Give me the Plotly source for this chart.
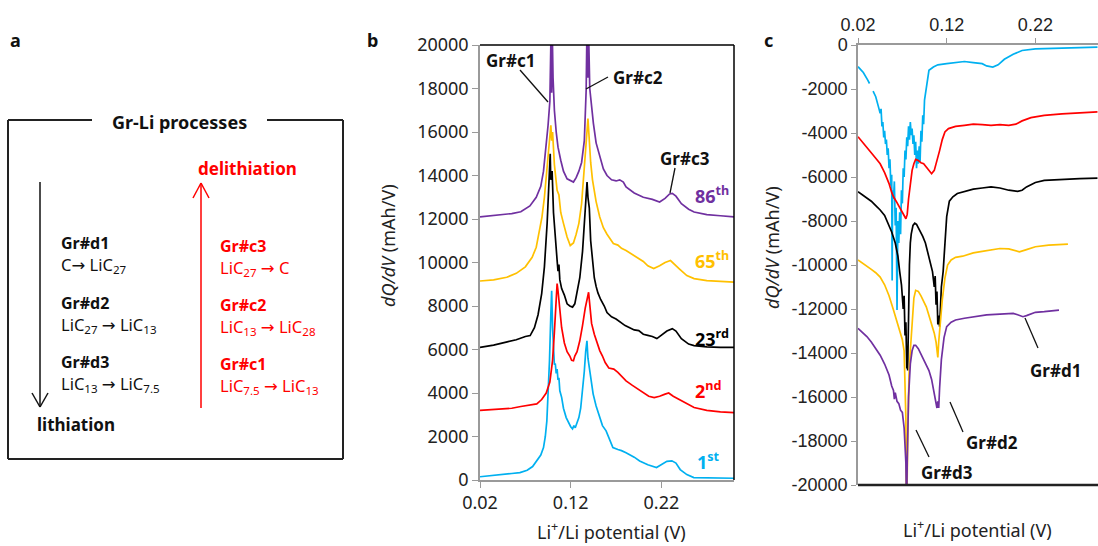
import plotly.graph_objects as go

W, H = 1098, 546

# ---------------- Panel b data (delithiation dQ/dV, offset curves) ----------------
b1_x = [0.02, 0.04, 0.055, 0.064, 0.072, 0.078, 0.0826, 0.087, 0.09, 0.092, 0.0937, 0.095, 0.0966, 0.098, 0.099,
        0.1, 0.101, 0.102, 0.103, 0.104, 0.105, 0.106, 0.107, 0.108, 0.11, 0.112, 0.115, 0.118, 0.12, 0.122, 0.1235,
        0.125, 0.127, 0.129, 0.131, 0.133, 0.135, 0.1365, 0.1379, 0.139, 0.141, 0.143, 0.1447, 0.148, 0.152, 0.155,
        0.159, 0.163, 0.1665, 0.172, 0.176, 0.181, 0.19, 0.196, 0.205, 0.2146, 0.22, 0.226, 0.2315, 0.236, 0.2407,
        0.248, 0.2557, 0.27, 0.285, 0.3]
b1_y = [150, 220, 300, 340, 450, 620, 875, 1150, 1490, 2000, 2720, 3800, 5480, 7500, 8700,
        7000, 5800, 5300, 5350, 4900, 5100, 4600, 4700, 4100, 3800, 3300, 2870, 2600, 2450, 2350, 2500,
        2400, 2600, 2870, 3300, 4010, 5000, 5900, 6400, 5600, 5020, 4500, 3960, 3400, 2870, 2500,
        2260, 1800, 1490, 1400, 1350, 1250, 1050, 875, 700, 570, 700, 860, 880, 780, 480,
        250, 110, 90, 85, 80]

b2_x = [0.02, 0.04, 0.055, 0.065, 0.075, 0.0826, 0.088, 0.093, 0.097, 0.1, 0.102, 0.104, 0.105, 0.106, 0.108,
        0.11, 0.113, 0.116, 0.119, 0.121, 0.123, 0.1245, 0.127, 0.13, 0.133, 0.136, 0.1397, 0.141, 0.143, 0.146,
        0.149, 0.152, 0.155, 0.158, 0.162, 0.1675, 0.172, 0.177, 0.181, 0.188, 0.195, 0.2, 0.206, 0.212, 0.218,
        0.224, 0.228, 0.233, 0.24, 0.248, 0.256, 0.27, 0.285, 0.3]
b2_y = [3200, 3250, 3300, 3380, 3450, 3500, 3700, 4000, 4500, 5500, 6800, 8300, 9030, 8700, 7800,
        7000, 6300, 5900, 5700, 5500, 5480, 5700, 5900, 6400, 7100, 7900, 8630, 8000, 7200, 6700,
        6300, 5950, 5700, 5400, 5150, 5100, 4950, 4750, 4560, 4350, 4150, 4000, 3850, 3790, 3850,
        3950, 4000, 3850, 3700, 3500, 3330, 3200, 3130, 3100]

b23_x = [0.02, 0.035, 0.05, 0.06, 0.07, 0.0753, 0.08, 0.084, 0.088, 0.091, 0.094, 0.096, 0.0974, 0.098, 0.0995,
         0.101, 0.103, 0.105, 0.106, 0.107, 0.108, 0.11, 0.113, 0.116, 0.119, 0.122, 0.1245, 0.127, 0.13, 0.133,
         0.135, 0.137, 0.138, 0.139, 0.1405, 0.142, 0.144, 0.146, 0.148, 0.15, 0.153, 0.157, 0.16, 0.165, 0.17,
         0.175, 0.18, 0.185, 0.19, 0.195, 0.2, 0.205, 0.21, 0.215, 0.22, 0.226, 0.232, 0.236, 0.242, 0.25, 0.256,
         0.27, 0.285, 0.3]
b23_y = [6100, 6200, 6350, 6450, 6600, 6640, 7000, 7600, 8570, 9800, 11800, 13500, 15000, 13800, 14200,
         12300, 11000, 10100, 9600, 9900, 9200, 8800, 8500, 8100, 8000, 7950, 8100, 8700, 9300, 10500,
         12000, 13400, 13700, 13000, 12500, 11000, 10000, 9300, 8900, 8600, 8300, 8000, 7700, 7500, 7400,
         7250, 7100, 7000, 6900, 6870, 6700, 6650, 6600, 6500, 6650, 6850, 6960, 6850, 6500, 6250, 6180,
         6120, 6100, 6100]

b65_x = [0.02, 0.035, 0.0495, 0.06, 0.07, 0.0775, 0.082, 0.085, 0.0883, 0.091, 0.094, 0.096, 0.0981, 0.099, 0.1,
         0.102, 0.104, 0.105, 0.107, 0.109, 0.112, 0.116, 0.1195, 0.123, 0.126, 0.129, 0.132, 0.135, 0.137, 0.139,
         0.1405, 0.142, 0.144, 0.146, 0.148, 0.152, 0.156, 0.16, 0.163, 0.167, 0.172, 0.176, 0.181, 0.19, 0.2,
         0.205, 0.2115, 0.218, 0.224, 0.23, 0.234, 0.24, 0.248, 0.256, 0.27, 0.285, 0.3]
b65_y = [9150, 9200, 9320, 9500, 9800, 10240, 10700, 11300, 12090, 13000, 14300, 15400, 16310, 15600, 16000,
         14500, 13700, 13320, 13100, 12300, 11800, 11170, 10780, 10900, 11300, 11800, 12700, 14200, 15500, 16620,
         15500, 14600, 13800, 13200, 12800, 12090, 11600, 11300, 11100, 10870, 10800, 10650, 10550, 10300, 10050,
         9850, 9720, 9850, 10000, 10090, 9950, 9700, 9400, 9260, 9170, 9130, 9100]

b86_x = [0.02, 0.04, 0.055, 0.065, 0.075, 0.082, 0.087, 0.09, 0.093, 0.095, 0.097, 0.098, 0.0985, 0.099, 0.0995,
         0.1005, 0.102, 0.104, 0.106, 0.109, 0.112, 0.116, 0.12, 0.123, 0.126, 0.129, 0.132, 0.135, 0.137, 0.138,
         0.139, 0.1395, 0.141, 0.143, 0.145, 0.148, 0.152, 0.156, 0.16, 0.165, 0.17, 0.174, 0.178, 0.181, 0.19,
         0.2, 0.21, 0.218, 0.224, 0.229, 0.232, 0.236, 0.242, 0.25, 0.256, 0.27, 0.285, 0.3]
b86_y = [12100, 12180, 12250, 12330, 12600, 13000, 13500, 14200, 15300, 16300, 17400, 19500, 21000, 17800, 21000,
         18500, 17000, 16000, 15300, 14700, 14200, 13850, 13750, 13700, 13900, 14200, 14600, 15600, 17900, 21000,
         18500, 21000, 18000, 17000, 16400, 15500, 14850, 14300, 14000, 13800, 13750, 13800, 13700, 13470, 13200,
         13000, 12900, 12780, 12950, 13150, 13180, 13050, 12700, 12450, 12320, 12200, 12150, 12100]

# ---------------- Panel c data (lithiation dQ/dV) ----------------
c1_x = [0.02, 0.026, 0.031, 0.033, None, 0.037, 0.04, 0.043, 0.045, 0.046, 0.047, 0.048, 0.049, 0.05, 0.051,
        0.052, 0.053, 0.054, 0.055, 0.056, 0.057, 0.058, 0.0585, 0.059, 0.06, 0.061, 0.062, 0.063, 0.064, 0.065,
        0.066, 0.067, 0.068, 0.069, 0.07, 0.071, 0.072, 0.073, 0.074, 0.075, 0.076, 0.077, 0.078, 0.079, 0.08,
        0.081, 0.082, 0.083, 0.084, 0.085, 0.086, 0.087, 0.088, 0.089, 0.09, 0.091, 0.092, 0.093, 0.094, 0.095,
        0.096, 0.098, 0.1, 0.105, 0.11, 0.12, 0.13, 0.14, 0.15, 0.16, 0.165, 0.172, 0.178, 0.185, 0.195, 0.205,
        0.22, 0.24, 0.26, 0.29]
c1_y = [-985, -1250, -1600, -1750, None, -2100, -2350, -2800, -3100, -2900, -3700, -3500, -4200, -3900, -4500,
        -4300, -5000, -4700, -5600, -5200, -6400, -5900, -10700, -6600, -7000, -6200, -8200, -7400, -12050, -8000,
        -9000, -7600, -8600, -6600, -7200, -5600, -6000, -4800, -5200, -4200, -4600, -3700, -4300, -3500, -4100,
        -3800, -4500, -4100, -5000, -4400, -5600, -4800, -5400, -4600, -5300, -3900, -4400, -3200, -3600, -2500,
        -2200, -1500, -1150, -1000, -900, -850, -800, -750, -800, -850, -950, -1000, -900, -650, -420, -250,
        -180, -150, -130, -100]

c2_x = [0.02, 0.025, 0.03, 0.033, 0.037, 0.04, 0.045, 0.05, 0.055, 0.058, 0.06, 0.063, 0.066, 0.069, 0.072,
        0.074, 0.0755, 0.077, 0.079, 0.081, 0.083, 0.085, 0.088, 0.091, 0.094, 0.097, 0.1, 0.103, 0.106, 0.109,
        0.112, 0.115, 0.118, 0.122, 0.13, 0.14, 0.15, 0.16, 0.17, 0.18, 0.19, 0.198, 0.205, 0.215, 0.23, 0.25,
        0.27, 0.29]
c2_y = [-4170, -4400, -4650, -4800, -5000, -5150, -5400, -5800, -6300, -6700, -6900, -7100, -7300, -7500, -7750,
        -7900, -7700, -7000, -6200, -5700, -5400, -5200, -5250, -5350, -5400, -5550, -5750, -5850, -5700, -5300,
        -4800, -4300, -3950, -3800, -3700, -3650, -3600, -3620, -3650, -3620, -3650, -3600, -3450, -3300, -3200,
        -3130, -3080, -3040]

c23_x = [0.02, 0.025, 0.03, 0.035, 0.04, 0.045, 0.05, 0.054, 0.058, 0.062, 0.065, 0.067, 0.069, 0.071, 0.072,
         0.073, 0.074, 0.075, 0.0755, 0.076, 0.077, 0.078, 0.079, 0.08, 0.082, 0.084, 0.086, 0.088, 0.09, 0.093,
         0.096, 0.099, 0.102, 0.104, 0.106, 0.107, 0.108, 0.109, 0.11, 0.111, 0.112, 0.113, 0.114, 0.116, 0.118,
         0.12, 0.123, 0.127, 0.132, 0.14, 0.15, 0.16, 0.17, 0.18, 0.19, 0.2, 0.205, 0.21, 0.22, 0.23, 0.25,
         0.27, 0.29]
c23_y = [-6670, -6800, -6950, -7100, -7300, -7500, -7750, -8100, -8500, -9000, -9600, -10300, -10900, -12000, -11400,
         -13200, -12600, -14700, -13800, -14800, -12000, -10000, -9000, -8600, -8200, -8100, -8150, -8300, -8500, -8700,
         -9000, -9500, -9900, -10300, -11000, -10500, -11800, -11200, -12700, -12300, -12800, -11800, -11000, -10300, -9000,
         -7800, -7100, -6900, -6750, -6650, -6550, -6500, -6450, -6500, -6600, -6650, -6600, -6450, -6250, -6150, -6100,
         -6070, -6050]

c65_x = [0.02, 0.025, 0.03, 0.035, 0.04, 0.045, 0.05, 0.055, 0.06, 0.064, 0.067, 0.07, 0.072, 0.073, 0.074,
         0.0745, 0.0752, 0.076, 0.0775, 0.079, 0.081, 0.083, 0.085, 0.088, 0.091, 0.094, 0.097, 0.1, 0.103, 0.106,
         0.108, 0.109, 0.11, 0.111, 0.113, 0.115, 0.118, 0.121, 0.125, 0.13, 0.138, 0.15, 0.16, 0.17, 0.18,
         0.19, 0.198, 0.202, 0.21, 0.22, 0.235, 0.2567]
c65_y = [-9770, -9900, -10050, -10200, -10350, -10550, -10900, -11400, -12050, -12600, -13000, -13400, -13900, -15000, -17000,
         -20500, -20500, -18000, -15000, -13900, -12500, -11500, -11150, -11200, -11400, -11650, -11900, -12300, -12700, -13100,
         -13500, -14000, -14200, -13500, -12500, -11600, -10600, -10000, -9770, -9650, -9600, -9450, -9380, -9320, -9250,
         -9270, -9350, -9400, -9300, -9170, -9100, -9050]

c86_x = [0.02, 0.025, 0.03, 0.035, 0.04, 0.045, 0.05, 0.055, 0.058, 0.06, 0.061, 0.062, 0.064, 0.066, 0.068,
         0.07, 0.072, 0.073, 0.074, 0.0745, 0.075, 0.0755, 0.077, 0.079, 0.081, 0.083, 0.085, 0.088, 0.091, 0.094,
         0.097, 0.1, 0.103, 0.106, 0.108, 0.109, 0.11, 0.111, 0.112, 0.114, 0.117, 0.12, 0.125, 0.13, 0.14,
         0.15, 0.165, 0.18, 0.195, 0.2, 0.206, 0.21, 0.22, 0.23, 0.2466]
c86_y = [-12880, -13050, -13250, -13500, -13800, -14100, -14500, -15000, -15500, -15700, -16100, -15800, -16200, -16300, -16600,
         -16700, -17400, -18000, -19000, -20500, -20500, -19000, -16000, -14500, -13900, -13650, -13650, -13800, -14050, -14300,
         -14500, -14800, -15200, -15800, -16300, -16500, -16200, -16500, -15600, -14300, -13300, -12800, -12600, -12500, -12420,
         -12350, -12270, -12230, -12200, -12260, -12350, -12300, -12150, -12120, -12050]

# tick labels
b_xticks = [0.02, 0.12, 0.22]
b_yticks = [0, 2000, 4000, 6000, 8000, 10000, 12000, 14000, 16000, 18000, 20000]
c_yticks = [0, -2000, -4000, -6000, -8000, -10000, -12000, -14000, -16000, -18000, -20000]

CYAN, RED, BLACK, YEL, PUR = "#00B0F0", "#FF0000", "#000000", "#FFC000", "#7030A0"
GRAY = "#9a9a9a"
FB = "Noto Sans, DejaVu Sans, sans-serif"
FC = "Liberation Sans, Arial, sans-serif"


def px(x):
    return x / W


def py(y):
    return 1 - y / H


fig = go.Figure()

for xs, ys, col in [(b1_x, b1_y, CYAN), (b2_x, b2_y, RED), (b23_x, b23_y, BLACK),
                    (b65_x, b65_y, YEL), (b86_x, b86_y, PUR)]:
    fig.add_trace(go.Scatter(x=xs, y=ys, mode="lines", line=dict(color=col, width=1.7),
                             xaxis="x", yaxis="y", showlegend=False, hoverinfo="skip"))

for xs, ys, col in [(c1_x, c1_y, CYAN), (c2_x, c2_y, RED), (c23_x, c23_y, BLACK),
                    (c65_x, c65_y, YEL), (c86_x, c86_y, PUR)]:
    fig.add_trace(go.Scatter(x=xs, y=ys, mode="lines", line=dict(color=col, width=1.7),
                             xaxis="x2", yaxis="y2", showlegend=False, hoverinfo="skip",
                             connectgaps=False))

fig.update_layout(
    template="none",
    width=W, height=H, margin=dict(l=0, r=0, t=0, b=0, pad=0, autoexpand=False),
    paper_bgcolor="white", plot_bgcolor="white",
    xaxis=dict(domain=[px(480), px(734)], range=[0.02, 0.30], anchor="y", automargin=False,
               tickvals=b_xticks, ticktext=[f"{v:.2f}" for v in b_xticks],
               showline=True, linecolor=GRAY, linewidth=1.5, ticks="outside", ticklen=6,
               tickcolor=GRAY, showgrid=False, zeroline=False,
               tickfont=dict(family=FB, size=18, color="#222")),
    yaxis=dict(domain=[py(480), py(45)], range=[0, 20000], anchor="x", automargin=False,
               tickvals=b_yticks, ticktext=[str(v) for v in b_yticks],
               showline=True, linecolor=GRAY, linewidth=1.5, ticks="outside", ticklen=6,
               tickcolor=GRAY, showgrid=False, zeroline=False,
               tickfont=dict(family=FB, size=18, color="#222")),
    xaxis2=dict(domain=[px(858), 1.0], range=[0.02, 0.2906], anchor="y2", side="top", automargin=False,
                tickvals=b_xticks, ticktext=[f"{v:.2f}" for v in b_xticks],
                showline=True, linecolor=GRAY, linewidth=1.5, ticks="outside", ticklen=5,
                tickcolor=GRAY, showgrid=False, zeroline=False,
                tickfont=dict(family=FC, size=18, color="#222")),
    yaxis2=dict(domain=[py(485), py(45)], range=[-20000, 0], anchor="x2", automargin=False,
                tickvals=c_yticks, ticktext=[str(v) for v in c_yticks],
                showline=True, linecolor=GRAY, linewidth=1.5, ticks="outside", ticklen=5,
                tickcolor=GRAY, showgrid=False, zeroline=False,
                tickfont=dict(family=FC, size=18, color="#222")),
)

shapes = []
ann = []


def line(x0, y0, x1, y1, color="black", width=1.5):
    shapes.append(dict(type="line", xref="paper", yref="paper", x0=px(x0), y0=py(y0),
                       x1=px(x1), y1=py(y1), line=dict(color=color, width=width)))


def text(x, y, t, size=16, color="black", bold=False, xanchor="left", family=FB, angle=0):
    if bold:
        t = "<b>" + t + "</b>"
    ann.append(dict(xref="paper", yref="paper", x=px(x), y=py(y), text=t, showarrow=False,
                    xanchor=xanchor, yanchor="middle", textangle=angle,
                    font=dict(family=family, size=size, color=color)))


# panel b border (top/right)
line(480, 45, 734, 45, "black", 1.5)
line(734, 45, 734, 480, "black", 1.5)
# panel c bottom line
line(858, 485, 1098, 485, "#222", 2.5)

# ---------------- Panel a ----------------
line(8, 120, 92, 120, "#222", 2)
line(267, 120, 343, 120, "#222", 2)
line(8, 120, 8, 459, "#222", 2)
line(343, 120, 343, 459, "#222", 2)
line(8, 459, 343, 459, "#222", 2)
text(179, 122, "Gr-Li processes", 18, "#111", True, "center")

# black arrow (down)
line(40, 182, 40, 407, "#111", 1.5)
line(32, 393, 40, 407, "#111", 1.5)
line(48, 393, 40, 407, "#111", 1.5)
text(35, 424, "lithiation", 17, "#111", True)
# red arrow (up)
line(201, 408, 201, 183, RED, 1.5)
line(193, 198, 201, 183, RED, 1.5)
line(209, 198, 201, 183, RED, 1.5)
text(196, 168, "delithiation", 17, RED, True)

text(59, 243, "Gr#d1", 16, "#111", True)
text(59, 265, "C→ LiC<sub>27</sub>", 16.5, "#111")
text(59, 303, "Gr#d2", 16, "#111", True)
text(59, 325, "LiC<sub>27</sub> → LiC<sub>13</sub>", 16.5, "#111")
text(59, 362, "Gr#d3", 16, "#111", True)
text(59, 384, "LiC<sub>13</sub> → LiC<sub>7.5</sub>", 16.5, "#111")

text(218, 246, "Gr#c3", 16, RED, True)
text(218, 268, "LiC<sub>27</sub> → C", 16.5, RED)
text(218, 305, "Gr#c2", 16, RED, True)
text(218, 327, "LiC<sub>13</sub> → LiC<sub>28</sub>", 16.5, RED)
text(218, 364, "Gr#c1", 16, RED, True)
text(218, 386, "LiC<sub>7.5</sub> → LiC<sub>13</sub>", 16.5, RED)

# panel letters
text(15, 40, "a", 18, "#111", True, "center")
text(372, 40, "b", 18, "#111", True, "center")
text(768, 40, "c", 18, "#111", True, "center")

# ---------------- Panel b annotations ----------------
text(510, 60, "Gr#c1", 17, "#111", True, "center")
line(520, 70, 548, 102, "#111", 1.3)
text(638, 78, "Gr#c2", 17, "#111", True, "center")
line(608, 77, 586, 89, "#111", 1.3)
text(685, 158, "Gr#c3", 17, "#111", True, "center")
line(675, 168, 670, 193, "#111", 1.3)

text(693, 195, "86<sup>th</sup>", 18, PUR, True)
text(693, 260, "65<sup>th</sup>", 18, YEL, True)
text(693, 338, "23<sup>rd</sup>", 18, BLACK, True)
text(693, 390, "2<sup>nd</sup>", 18, RED, True)
text(695, 461, "1<sup>st</sup>", 18, CYAN, True)

text(388, 246, "<i>dQ/dV</i> (mAh/V)", 18, "#222", False, "center", FB, -90)
text(611, 531, "Li<sup>+</sup>/Li potential (V)", 18, "#222", False, "center")

# ---------------- Panel c annotations ----------------
text(1055, 370, "Gr#d1", 17, "#111", True, "center")
line(1025, 318, 1038, 348, "#111", 1.3)
text(992, 442, "Gr#d2", 17, "#111", True, "center")
line(950, 402, 963, 432, "#111", 1.3)
text(947, 472, "Gr#d3", 17, "#111", True, "center")
line(916, 430, 929, 457, "#111", 1.3)

text(772, 248, "<i>dQ/dV</i> (mAh/V)", 18, "#222", False, "center", FB, -90)
text(977, 529, "Li<sup>+</sup>/Li potential (V)", 18, "#222", False, "center")

fig.update_layout(shapes=shapes, annotations=ann)
fig.write_html("out.html")
